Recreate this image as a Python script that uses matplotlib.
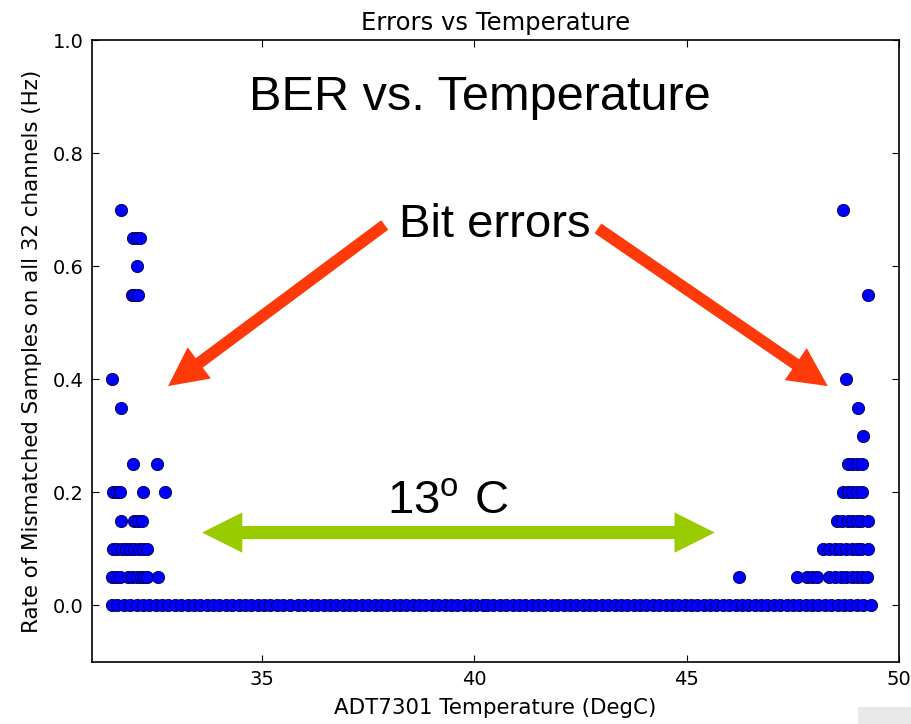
import matplotlib.pyplot as plt
from matplotlib.patches import Rectangle

plt.rcParams['mathtext.fontset'] = 'custom'
plt.rcParams['mathtext.rm'] = 'Liberation Sans'

# Points with zero mismatches (one continuous run of readings)
zero_temps = [31.47, 31.6, 31.75, 31.9, 32.05, 32.2, 32.35, 32.5, 32.65, 32.8, 32.95,
              33.1, 33.25, 33.4, 33.55, 33.7, 33.85, 34.0, 34.15, 34.3, 34.45, 34.6,
              34.75, 34.9, 35.05, 35.2, 35.35, 35.5, 35.65, 35.85, 36.0, 36.15, 36.3,
              36.45, 36.6, 36.75, 36.9, 37.05, 37.2, 37.35, 37.5, 37.65, 37.8, 37.95,
              38.1, 38.25, 38.4, 38.55, 38.7, 38.85, 39.0, 39.15, 39.3, 39.45, 39.6,
              39.75, 39.9, 40.05, 40.2, 40.3, 40.45, 40.6, 40.75, 40.9, 41.05, 41.2,
              41.35, 41.5, 41.65, 41.8, 41.95, 42.1, 42.25, 42.4, 42.55, 42.7, 42.85,
              43.0, 43.15, 43.3, 43.45, 43.6, 43.75, 43.9, 44.05, 44.2, 44.35, 44.5,
              44.65, 44.8, 44.95, 45.1, 45.25, 45.4, 45.55, 45.7, 45.85, 46.0, 46.15,
              46.3, 46.45, 46.6, 46.75, 46.9, 47.05, 47.2, 47.35, 47.5, 47.65, 47.8,
              47.95, 48.1, 48.25, 48.4, 48.55, 48.7, 48.85, 49.0, 49.15, 49.33]

# Cold side errors
cold_temps = [31.68,
              31.96, 32.05, 32.13,
              32.06,
              31.94, 32.0, 32.08,
              31.47,
              31.68,
              31.97, 32.53,
              31.5, 31.58, 31.66, 32.2, 32.72,
              31.68, 32.0, 32.08, 32.17,
              31.5, 31.6, 31.7, 31.8, 31.9, 32.0, 32.1, 32.2, 32.3,
              31.47, 31.56, 31.66, 31.85, 31.95, 32.05, 32.15, 32.22, 32.3, 32.55]
cold_rates = [0.7,
              0.65, 0.65, 0.65,
              0.6,
              0.55, 0.55, 0.55,
              0.4,
              0.35,
              0.25, 0.25,
              0.2, 0.2, 0.2, 0.2, 0.2,
              0.15, 0.15, 0.15, 0.15,
              0.1, 0.1, 0.1, 0.1, 0.1, 0.1, 0.1, 0.1, 0.1,
              0.05, 0.05, 0.05, 0.05, 0.05, 0.05, 0.05, 0.05, 0.05, 0.05]

# Hot side errors
hot_temps = [48.67,
             49.26,
             48.74,
             49.02,
             49.14,
             48.79, 48.9, 49.0, 49.12,
             48.67, 48.8, 48.9, 49.0, 49.12,
             48.53, 48.65, 48.8, 48.9, 49.0, 49.1, 49.26,
             48.2, 48.35, 48.5, 48.6, 48.75, 48.9, 49.0, 49.1, 49.26,
             46.22, 47.59, 47.82, 47.95, 48.06, 48.36, 48.5, 48.62, 48.75, 48.9, 49.0,
             49.12, 49.24]
hot_rates = [0.7,
             0.55,
             0.4,
             0.35,
             0.3,
             0.25, 0.25, 0.25, 0.25,
             0.2, 0.2, 0.2, 0.2, 0.2,
             0.15, 0.15, 0.15, 0.15, 0.15, 0.15, 0.15,
             0.1, 0.1, 0.1, 0.1, 0.1, 0.1, 0.1, 0.1, 0.1,
             0.05, 0.05, 0.05, 0.05, 0.05, 0.05, 0.05, 0.05, 0.05, 0.05, 0.05,
             0.05, 0.05]

x_ticks = [35, 40, 45, 50]
y_ticks = [0.0, 0.2, 0.4, 0.6, 0.8, 1.0]

fig = plt.figure(figsize=(9.11, 7.24), dpi=100)
ax = fig.add_axes([0.101, 0.0856, 0.886, 0.859])

temps = zero_temps + cold_temps + hot_temps
rates = [0.0] * len(zero_temps) + cold_rates + hot_rates
ax.scatter(temps, rates, s=78, c='#0000ff', edgecolors='#000044', linewidths=0.6, zorder=3)

ax.set_xlim(31, 50)
ax.set_ylim(-0.1, 1.0)
ax.set_xticks(x_ticks)
ax.set_yticks(y_ticks)
ax.set_yticklabels(['%.1f' % v for v in y_ticks])
ax.tick_params(direction='in', top=True, right=True, length=5, width=0.8,
               labelsize=14, pad=6)
for sp in ax.spines.values():
    sp.set_linewidth(1.2)

ax.set_title('Errors vs Temperature', fontsize=17.5, pad=7)
ax.set_xlabel('ADT7301 Temperature (DegC)', fontsize=15.4, labelpad=6)
ax.set_ylabel('Rate of Mismatched Samples on all 32 channels (Hz)', fontsize=15.4, labelpad=8)

# Slide overlay: headline, arrows and span
ax.text(40.13, 0.876, 'BER vs. Temperature', fontsize=35, family='Liberation Sans',
        ha='center', va='baseline', zorder=5)
ax.text(40.48, 0.651, 'Bit errors', fontsize=34, family='Liberation Sans',
        ha='center', va='baseline', zorder=5)
ax.text(37.94, 0.163, r'$\mathrm{13^{o}\ C}$', fontsize=34, family='Liberation Sans',
        ha='left', va='baseline', zorder=5)

red = '#ff3a0a'
red_arrow = dict(width=8.5, headwidth=28, headlength=28, shrink=0, color=red, lw=0)
ax.annotate('', xy=(32.79, 0.388), xytext=(37.89, 0.673), arrowprops=red_arrow, zorder=4)
ax.annotate('', xy=(48.32, 0.388), xytext=(42.91, 0.667), arrowprops=red_arrow, zorder=4)

green_arrow = dict(width=9.4, headwidth=29, headlength=29, shrink=0, color='#99cc00', lw=0)
ax.annotate('', xy=(33.59, 0.129), xytext=(39.62, 0.129), arrowprops=green_arrow, zorder=4)
ax.annotate('', xy=(45.66, 0.129), xytext=(39.6, 0.129), arrowprops=green_arrow, zorder=4)

# grey box in the lower right corner of the slide
fig.patches.append(Rectangle((858 / 911, 0), 53 / 911, 17 / 724, transform=fig.transFigure,
                             facecolor='#e8e8e8', edgecolor='none'))

plt.savefig('out.png', dpi=100)
